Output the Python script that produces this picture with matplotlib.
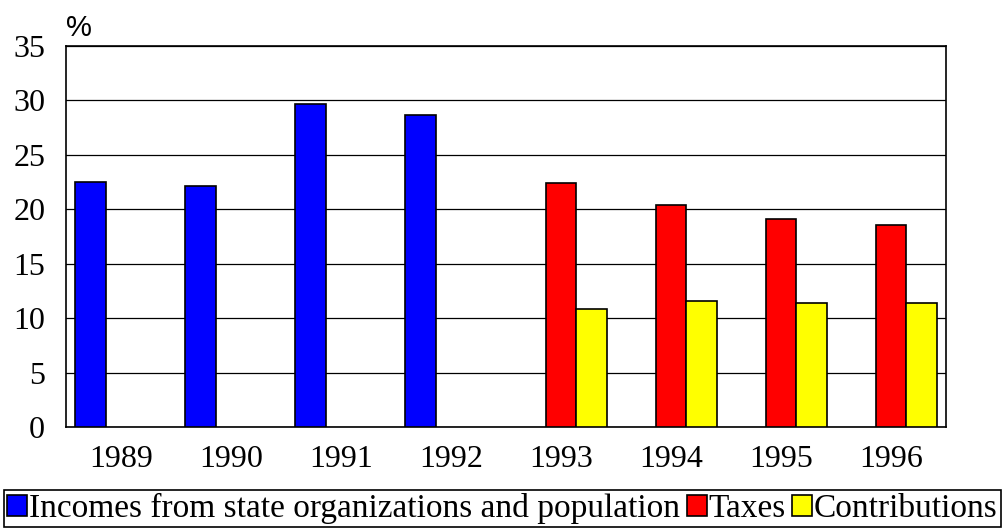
import matplotlib
matplotlib.use("Agg")
import matplotlib.pyplot as plt
import numpy as np

plt.rcParams["font.family"] = ["Liberation Serif", "DejaVu Serif"]

# ── Data ───────────────────────────────────────────────────────────────────
years = ["1989", "1990", "1991", "1992", "1993", "1994", "1995", "1996"]
incomes = [22.5, 22.1, 29.7, 28.7, np.nan, np.nan, np.nan, np.nan]
taxes = [np.nan, np.nan, np.nan, np.nan, 22.4, 20.4, 19.1, 18.6]
contributions = [np.nan, np.nan, np.nan, np.nan, 10.8, 11.6, 11.4, 11.4]

series = [
    ("Incomes from state organizations and population", incomes, "#0000ff"),
    ("Taxes", taxes, "#ff0000"),
    ("Contributions", contributions, "#ffff00"),
]

# ── Plot ───────────────────────────────────────────────────────────────────
fig = plt.figure(figsize=(10.05, 5.29), dpi=100)
ax = fig.add_axes([66 / 1005, 1 - 427 / 529, 880 / 1005, 381 / 529])

x = np.arange(len(years))
w = 0.279
for i, (label, vals, color) in enumerate(series):
    ax.bar(x + (i - 1) * w, vals, width=w, color=color, edgecolor="black",
           linewidth=1.2, label=label, zorder=3)

ax.set_xlim(-0.5, len(years) - 0.5)
ax.set_ylim(0, 35)
ax.set_yticks(range(0, 36, 5))
ax.set_xticks(x)
ax.set_xticklabels(years)
ax.yaxis.grid(True, color="black", linewidth=0.9, zorder=0)
ax.set_axisbelow(True)
for s in ax.spines.values():
    s.set_color("black")
    s.set_linewidth(1.2)

ax.tick_params(axis="both", length=0, labelsize=23)
ax.tick_params(axis="y", pad=15)
ax.tick_params(axis="x", pad=13)

ax.text(0.0, 1.01, "%", transform=ax.transAxes, fontsize=21,
        family="Liberation Sans", ha="left", va="bottom")

leg = fig.legend(loc="lower center", bbox_to_anchor=(0.5, 0.0), ncol=3,
                 prop={"family": "Liberation Serif", "size": 24},
                 handlelength=0.6, handleheight=0.6, handletextpad=0.05,
                 columnspacing=0.2, borderpad=0.1, borderaxespad=0.05,
                 fancybox=False, edgecolor="black", framealpha=1)
leg.get_frame().set_linewidth(1.2)

fig.savefig("out.png", dpi=100)
